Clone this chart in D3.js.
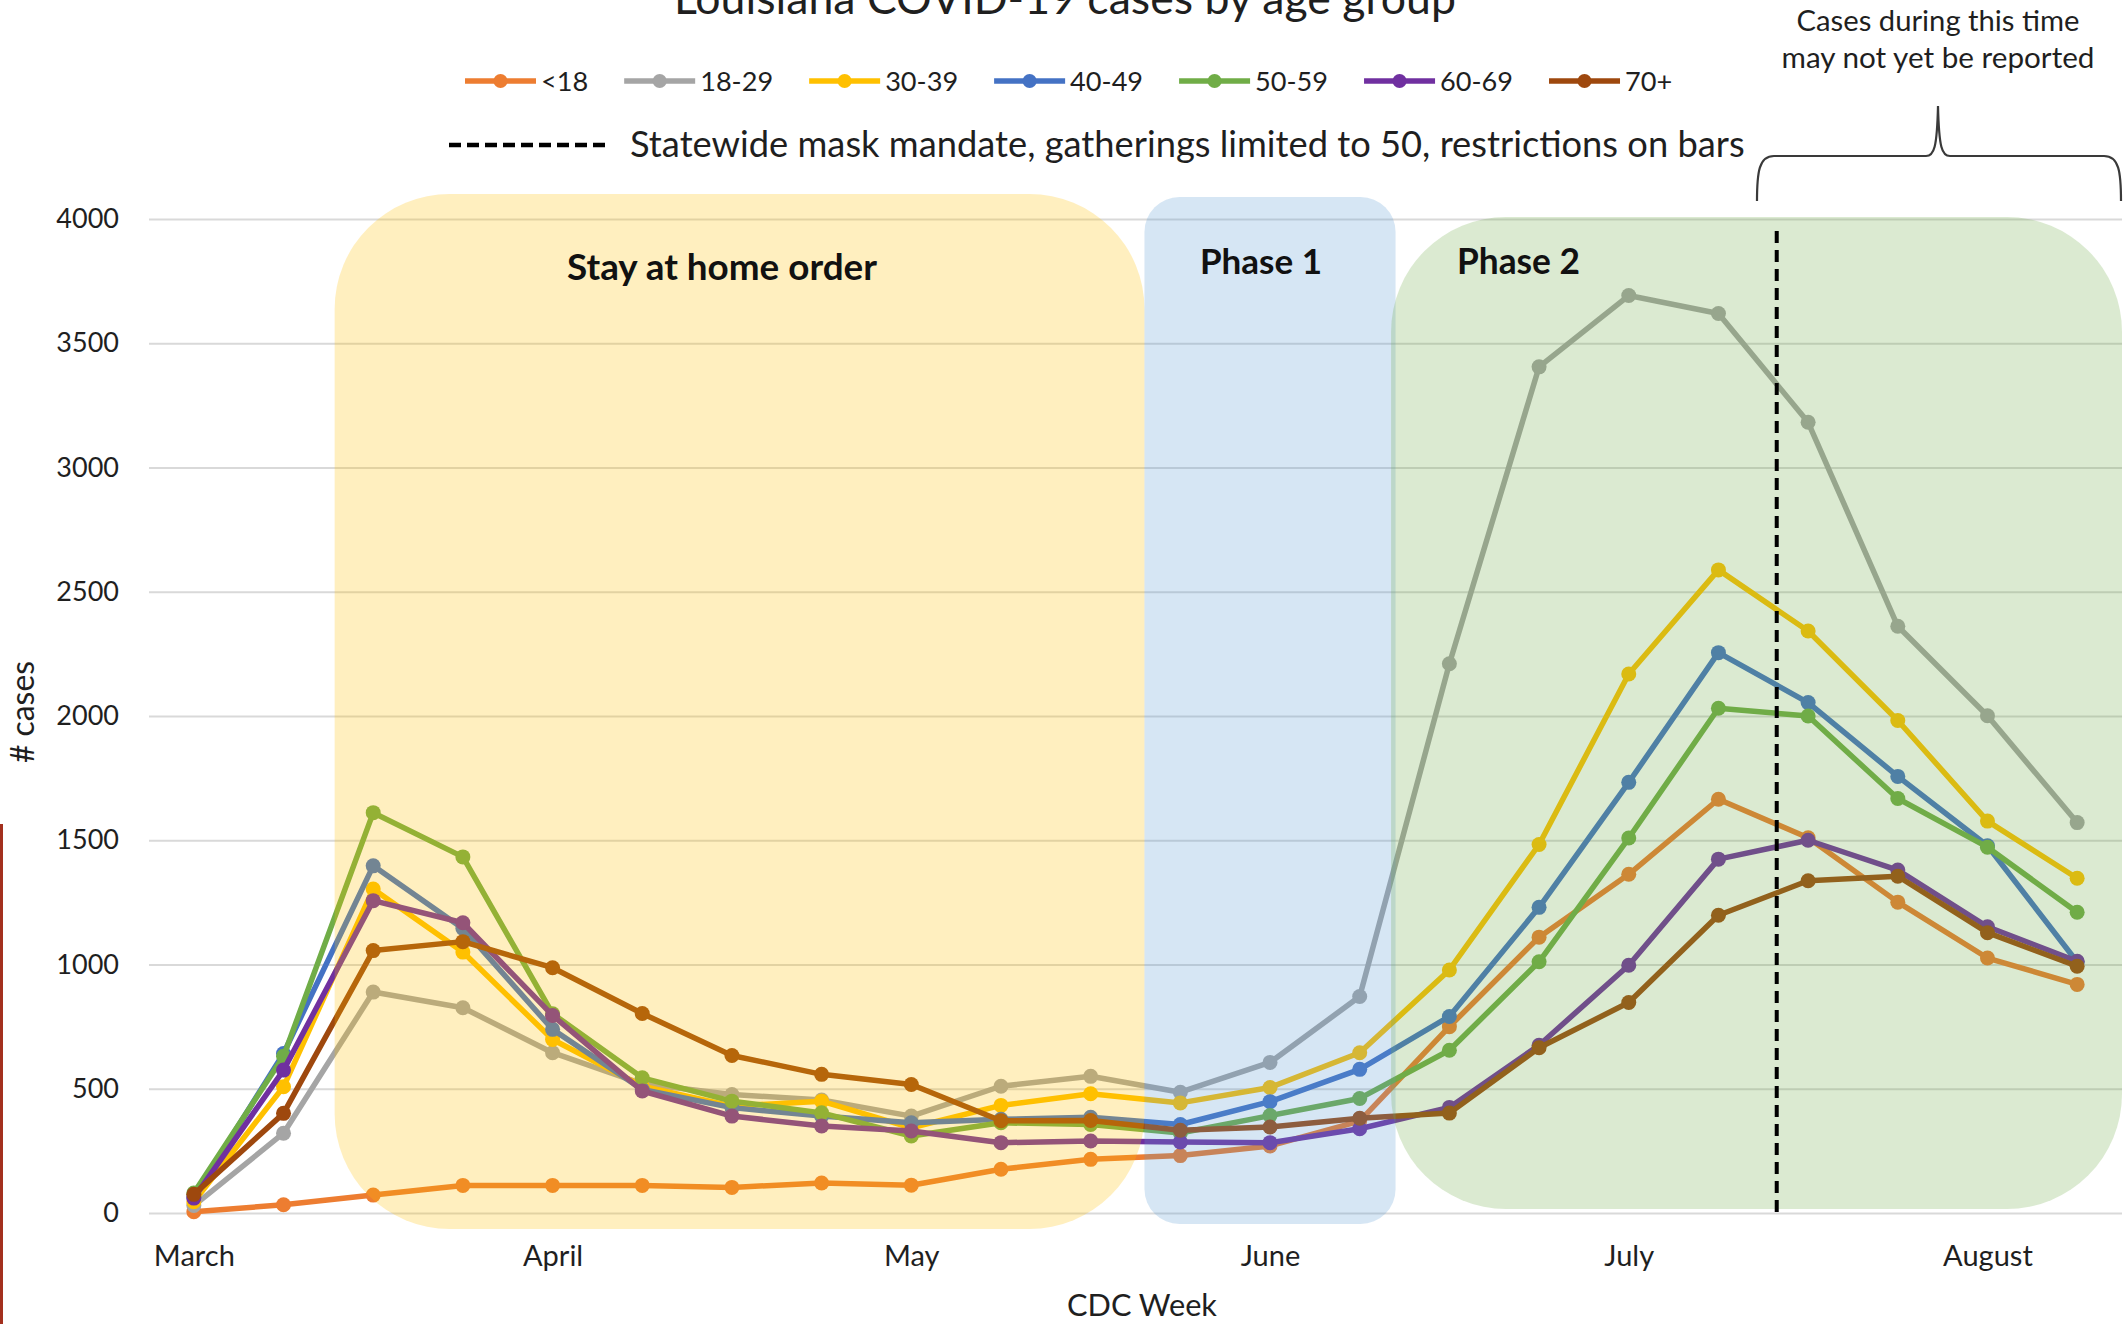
<!DOCTYPE html>
<html>
<head>
<meta charset="utf-8">
<script src="https://cdn.jsdelivr.net/npm/d3@7"></script>
<style>
  body { margin: 0; background: #ffffff; }
  svg { display: block; }
</style>
</head>
<body>
<svg id="chart" width="2128" height="1324"></svg>
<script>
// ---------------- DATA ----------------
const weeks = d3.range(10, 32); // CDC weeks 10..31
const monthTickWeeks = [10, 14, 18, 22, 26, 30];
const monthLabels = ["March", "April", "May", "June", "July", "August"];
const yTicks = [0, 500, 1000, 1500, 2000, 2500, 3000, 3500, 4000];

const seriesNames = ["<18", "18-29", "30-39", "40-49", "50-59", "60-69", "70+"];

const casesUnder18 = [5, 33, 72, 111, 111, 111, 103, 121, 112, 176, 216, 231, 270, 370, 750, 1110, 1363, 1665, 1510, 1251, 1026, 920];
const cases18to29  = [30, 321, 889, 826, 645, 520, 477, 455, 390, 510, 550, 486, 606, 871, 2210, 3405, 3692, 3620, 3182, 2361, 2001, 1571];
const cases30to39  = [45, 508, 1304, 1050, 698, 510, 430, 450, 343, 433, 480, 443, 505, 645, 978, 1483, 2169, 2588, 2342, 1982, 1577, 1347];
const cases40to49  = [65, 642, 1397, 1145, 739, 497, 424, 390, 363, 377, 385, 356, 448, 578, 791, 1230, 1733, 2255, 2054, 1757, 1478, 1010];
const cases50to59  = [80, 631, 1611, 1433, 802, 544, 450, 403, 310, 363, 356, 322, 392, 461, 655, 1011, 1509, 2031, 2000, 1668, 1472, 1210];
const cases60to69  = [60, 575, 1257, 1168, 795, 491, 390, 350, 330, 283, 290, 286, 283, 339, 425, 675, 997, 1424, 1500, 1380, 1152, 1013];
const cases70plus  = [75, 401, 1056, 1092, 987, 803, 634, 558, 517, 371, 372, 333, 346, 381, 402, 665, 847, 1198, 1337, 1355, 1128, 993];

const seriesValues = [casesUnder18, cases18to29, cases30to39, cases40to49, cases50to59, cases60to69, cases70plus];

// policy periods in (fractional) CDC weeks
const phaseLabels = ["Stay at home order", "Phase 1", "Phase 2"];
const phaseStartWeeks = [11.57, 20.6, 23.35];
const phaseEndWeeks = [20.6, 23.4, 31.5];
const maskMandateWeek = 27.65;

// ---------------- STYLE ----------------
const FONT = "Lato, 'Open Sans', sans-serif";
const TEXT = "#1f1f1f";
const seriesColors = ["#ED7D31", "#A5A5A5", "#FFC000", "#4472C4", "#70AD47", "#7030A0", "#9E480E"];
const phaseColors = ["#FFC000", "#5B9BD5", "#70AD47"];
const phaseTop = [194, 197, 217];
const phaseBottom = [1229, 1224, 1209];
const phaseRadius = [115, 35, 115];

const svg = d3.select("#chart");

const plotLeft = 149, plotRight = 2122;
const x = d3.scalePoint().domain(weeks).range([plotLeft, plotRight]).padding(0.5);
const y = d3.scaleLinear().domain([0, 4000]).range([1213, 219]);
const step = x.step();
const xf = w => x(weeks[0]) + (w - weeks[0]) * step;

function fit(sel, target) {
  const len = sel.node().getComputedTextLength();
  const fs = parseFloat(sel.attr("font-size"));
  sel.attr("font-size", (fs * target / len).toFixed(2));
  return sel;
}

// red edge at left (from source screenshot)
svg.append("rect").attr("x", 0).attr("y", 824).attr("width", 3).attr("height", 500).attr("fill", "#A3301E");

// ---------------- GRID + Y AXIS ----------------
const yAxis = d3.axisLeft(y).tickValues(yTicks).tickFormat(d3.format("d"))
  .tickSize(-(plotRight - plotLeft)).tickPadding(30);
const gy = svg.append("g").attr("transform", `translate(${plotLeft},0)`).call(yAxis);
gy.select(".domain").remove();
gy.selectAll(".tick line").attr("stroke", "#d9d9d9").attr("stroke-width", 2);
gy.selectAll(".tick text").attr("font-family", FONT).attr("font-size", 27).attr("fill", TEXT);

// ---------------- SERIES ----------------
const line = d3.line().x((d, i) => x(weeks[i])).y(d => y(d));
const gs = svg.append("g");
seriesValues.forEach((vals, si) => {
  gs.append("path").attr("d", line(vals)).attr("fill", "none")
    .attr("stroke", seriesColors[si]).attr("stroke-width", 5.5).attr("stroke-linejoin", "round");
  gs.selectAll(null).data(vals).enter().append("circle")
    .attr("cx", (d, i) => x(weeks[i])).attr("cy", d => y(d)).attr("r", 7.5)
    .attr("fill", seriesColors[si]);
});

// ---------------- PHASE OVERLAYS ----------------
phaseLabels.forEach((lab, i) => {
  const x0 = xf(phaseStartWeeks[i]), x1 = xf(phaseEndWeeks[i]);
  svg.append("rect").attr("x", x0).attr("y", phaseTop[i])
    .attr("width", x1 - x0).attr("height", phaseBottom[i] - phaseTop[i])
    .attr("rx", phaseRadius[i]).attr("ry", phaseRadius[i])
    .attr("fill", phaseColors[i]).attr("fill-opacity", 0.25);
});

// phase labels
const labStay = svg.append("text").text(phaseLabels[0]).attr("x", 722).attr("y", 280)
  .attr("text-anchor", "middle").attr("font-family", FONT).attr("font-weight", 700)
  .attr("font-size", 34).attr("fill", "#111");
fit(labStay, 310);
const labP1 = svg.append("text").text(phaseLabels[1]).attr("x", 1200).attr("y", 274)
  .attr("font-family", FONT).attr("font-weight", 700).attr("font-size", 34).attr("fill", "#111");
fit(labP1, 122);
const labP2 = svg.append("text").text(phaseLabels[2]).attr("x", 1457).attr("y", 274)
  .attr("font-family", FONT).attr("font-weight", 700).attr("font-size", 34).attr("fill", "#111");
fit(labP2, 123);

// mask mandate line
svg.append("line").attr("x1", xf(maskMandateWeek)).attr("x2", xf(maskMandateWeek))
  .attr("y1", 231).attr("y2", 1216).attr("stroke", "#000").attr("stroke-width", 4)
  .attr("stroke-dasharray", "12,7");

// ---------------- X AXIS ----------------
const xAxis = d3.axisBottom(x).tickValues(monthTickWeeks)
  .tickFormat(w => monthLabels[monthTickWeeks.indexOf(w)]).tickSize(0).tickPadding(32);
const gx = svg.append("g").attr("transform", `translate(0,${y(0)})`).call(xAxis);
gx.select(".domain").remove();
gx.selectAll(".tick text").attr("font-family", FONT).attr("font-size", 28).attr("fill", TEXT);
{
  const first = gx.select(".tick text");
  const len = first.node().getComputedTextLength();
  gx.selectAll(".tick text").attr("font-size", (28 * 81 / len).toFixed(2));
}

const xTitle = svg.append("text").text("CDC Week").attr("x", 1142).attr("y", 1316)
  .attr("text-anchor", "middle").attr("font-family", FONT).attr("font-size", 28).attr("fill", TEXT);
fit(xTitle, 150);

const yTitle = svg.append("text").text("# cases")
  .attr("transform", "translate(34,712) rotate(-90)")
  .attr("text-anchor", "middle").attr("font-family", FONT).attr("font-size", 27).attr("fill", TEXT);
fit(yTitle, 102);

// ---------------- TITLE ----------------
const title = svg.append("text").text("Louisiana COVID-19 cases by age group")
  .attr("x", 1065).attr("y", 14).attr("text-anchor", "middle")
  .attr("font-family", FONT).attr("font-size", 46).attr("fill", TEXT);
fit(title, 782);

// ---------------- LEGEND ----------------
const legend = svg.append("g");
let lx = 465;
const ly = 81;
let legendFs = 27;
{
  const probe = legend.append("text").text("18-29").attr("font-family", FONT).attr("font-size", 27);
  legendFs = 27 * 73 / probe.node().getComputedTextLength();
  probe.remove();
}
seriesNames.forEach((name, i) => {
  legend.append("line").attr("x1", lx).attr("x2", lx + 71).attr("y1", ly).attr("y2", ly)
    .attr("stroke", seriesColors[i]).attr("stroke-width", 5.5);
  legend.append("circle").attr("cx", lx + 35.5).attr("cy", ly).attr("r", 7).attr("fill", seriesColors[i]);
  const t = legend.append("text").text(name).attr("x", lx + 76).attr("y", ly + 10)
    .attr("font-family", FONT).attr("font-size", legendFs.toFixed(2)).attr("fill", TEXT);
  lx = lx + 76 + t.node().getComputedTextLength() + 36;
});

legend.append("line").attr("x1", 449).attr("x2", 609).attr("y1", 145).attr("y2", 145)
  .attr("stroke", "#000").attr("stroke-width", 4.5).attr("stroke-dasharray", "12,6");
const maskText = legend.append("text")
  .text("Statewide mask mandate, gatherings limited to 50, restrictions on bars")
  .attr("x", 630).attr("y", 157).attr("font-family", FONT).attr("font-size", 34).attr("fill", TEXT);
fit(maskText, 1115);

// ---------------- BRACE ANNOTATION ----------------
svg.append("path")
  .attr("d", "M1757,201 C1757,172 1759,156 1774,156 L1926,156 C1934,156 1937,148 1938,106 " +
             "C1939,148 1942,156 1950,156 L2104,156 C2119,156 2121,172 2121,201")
  .attr("fill", "none").attr("stroke", "#3a3a3a").attr("stroke-width", 2.2);
const note1 = svg.append("text").text("Cases during this time").attr("x", 1938).attr("y", 31)
  .attr("text-anchor", "middle").attr("font-family", FONT).attr("font-size", 27).attr("fill", TEXT);
fit(note1, 283);
const note2 = svg.append("text").text("may not yet be reported").attr("x", 1938).attr("y", 68)
  .attr("text-anchor", "middle").attr("font-family", FONT).attr("font-size", 27).attr("fill", TEXT);
fit(note2, 313);
</script>
</body>
</html>
